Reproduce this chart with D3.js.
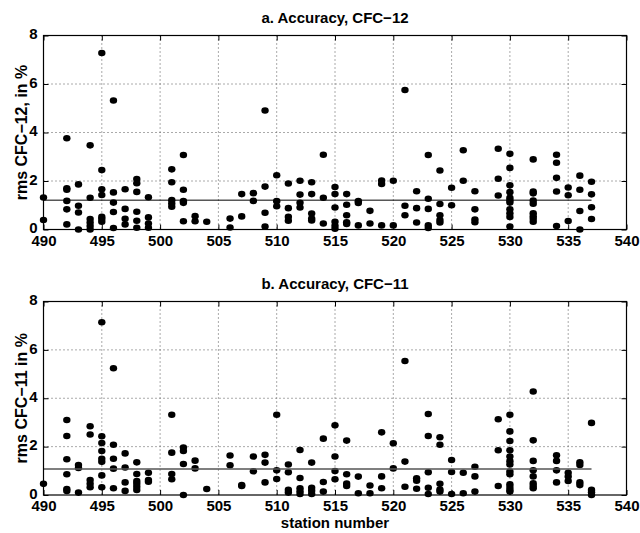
<!DOCTYPE html>
<html lang="en">
    <head>
        <meta charset="utf-8">
        <script src="https://d3js.org/d3.v7.min.js"></script>
        <title>Accuracy CFC-12 / CFC-11</title>
        <style>
            body { margin: 0; background: #fff; }
            text { font-family: "Liberation Sans", Arial, sans-serif; font-weight: bold; }
        </style>
    </head>

    <body>
        <div id="plot-div"></div>
        <script>
            const width = 640
            const height = 533

            // x axis ticks (station number) and y ticks (rms, %)
            const xTicks = [490, 495, 500, 505, 510, 515, 520, 525, 530, 535, 540]
            const yTicks = [0, 2, 4, 6, 8]

            // panel a: CFC-12, values per station
            const stations12 = [490, 492, 493, 494, 495, 496, 497, 498, 499, 501, 502, 503, 504, 506, 507, 508,
                509, 510, 511, 512, 513, 514, 515, 516, 517, 518, 519, 520, 521, 522, 523, 524, 525, 526, 527,
                529, 530, 532, 534, 535, 536, 537]
            const rms12 = [
                [1.32, 0.39],
                [3.76, 1.70, 1.64, 1.18, 0.83, 0.21],
                [1.86, 0.98, 0.70, 0.0],
                [3.47, 1.31, 0.43, 0.29, 0.14, 0.0],
                [7.28, 2.45, 1.66, 1.42, 0.52, 0.43, 0.32],
                [5.32, 1.53, 1.11, 0.72, 0.06],
                [1.66, 0.85, 0.44, 0.21],
                [2.08, 1.91, 1.55, 0.73, 0.36, 0.07],
                [1.33, 0.50, 0.25, 0.07],
                [2.48, 1.95, 1.21, 1.07, 0.94],
                [3.07, 1.64, 1.17, 1.10, 0.34],
                [0.55, 0.34],
                [0.32],
                [0.45, 0.08],
                [1.46, 0.54],
                [1.50, 1.18],
                [4.91, 1.77, 0.69, 0.12],
                [2.24, 1.17, 0.96],
                [1.90, 0.88, 0.52, 0.36],
                [2.01, 1.44, 1.10, 0.91],
                [1.95, 1.46, 0.66, 0.45, 0.37],
                [3.08, 1.31, 0.25],
                [1.75, 1.46, 0.91, 0.32, 0.15, 0.03],
                [1.46, 1.02, 0.59, 0.30, 0.23],
                [1.17, 1.09, 0.17],
                [0.77, 0.25],
                [2.02, 1.88, 0.17],
                [2.01, 0.17],
                [5.75, 0.98, 0.59],
                [1.58, 0.88, 0.29],
                [3.07, 1.27, 0.85, 0.17, 0.06],
                [2.43, 1.05, 0.59, 0.39, 0.29],
                [1.72, 1.00],
                [3.27, 2.01],
                [1.58, 0.83, 0.41, 0.30],
                [3.33, 2.09, 1.40],
                [3.12, 2.54, 1.82, 1.54, 1.31, 1.21, 1.11, 0.83, 0.67, 0.52, 0.12],
                [2.89, 1.57, 1.49, 1.19, 1.06, 0.67, 0.55, 0.44, 0.32],
                [3.08, 2.75, 2.13, 1.57, 0.14],
                [1.73, 1.41, 0.35],
                [2.22, 1.64, 0.76, 0.0],
                [1.97, 1.45, 0.92, 0.43]
            ]
            const mean12 = 1.21

            // panel b: CFC-11
            const stations11 = [490, 492, 493, 494, 495, 496, 497, 498, 499, 501, 502, 503, 504, 506, 507, 508,
                509, 510, 511, 512, 513, 514, 515, 516, 517, 518, 519, 520, 521, 522, 523, 524, 525, 526, 527,
                529, 530, 532, 534, 535, 536, 537]
            const rms11 = [
                [0.46],
                [3.10, 2.44, 1.48, 0.86, 0.25, 0.17],
                [1.24, 1.12, 0.10],
                [2.84, 2.50, 0.62, 0.46, 0.32],
                [7.14, 2.43, 2.15, 1.82, 1.50, 1.37, 0.81, 0.32],
                [5.24, 2.08, 1.50, 1.09, 0.28],
                [1.72, 1.14, 0.52, 0.17],
                [1.35, 0.87, 0.58, 0.47, 0.34, 0.21],
                [0.92, 0.62, 0.55],
                [3.32, 1.75, 0.87, 0.65],
                [1.96, 1.82, 1.28, 0.0],
                [1.42, 1.10],
                [0.25],
                [1.63, 1.23],
                [0.41, 0.37],
                [1.59, 0.98],
                [1.66, 1.34, 0.52],
                [3.32, 1.02, 0.66],
                [1.26, 0.94, 0.21, 0.10],
                [1.86, 0.70, 0.28, 0.15, 0.04],
                [1.34, 0.30, 0.18, 0.04],
                [2.33, 0.54, 0.14],
                [2.88, 1.59, 0.99, 0.65],
                [2.25, 0.86, 0.47, 0.37],
                [0.76, 0.07],
                [0.39, 0.07],
                [2.59, 0.77, 0.28],
                [2.14, 1.10],
                [5.54, 1.38, 0.34],
                [0.69, 0.59, 0.26],
                [3.35, 2.44, 0.94, 0.30, 0.04],
                [2.39, 2.08, 0.46, 0.23, 0.14],
                [1.45, 0.95, 0.04],
                [0.92, 0.07],
                [1.17, 0.77, 0.14],
                [3.13, 1.85, 0.37],
                [3.32, 2.63, 2.23, 1.85, 1.59, 1.40, 1.26, 0.97, 0.86, 0.44, 0.33, 0.22, 0.14],
                [4.28, 2.26, 1.41, 1.02, 0.77, 0.48, 0.37, 0.28],
                [1.64, 1.41, 1.02, 0.52],
                [0.92, 0.76, 0.58],
                [1.35, 1.24, 0.52, 0.41],
                [2.98, 0.21, 0.11, 0.0]
            ]
            const mean11 = 1.08

            const svg = d3.select("#plot-div")
                .append("svg")
                .attr("width", width)
                .attr("height", height)

            let drawPanel = (opts) => {
                let left = 43.5, right = 626.5
                let top = opts.top, bottom = opts.bottom

                let x = d3.scaleLinear().domain([490, 540]).range([left, right])
                let y = d3.scaleLinear().domain([0, 8]).range([bottom, top])

                let g = svg.append("g")

                // dotted grid
                g.append("g")
                .selectAll("line.gx")
                .data(xTicks.slice(1, -1))
                .join("line")
                .attr("x1", d => x(d)).attr("x2", d => x(d))
                .attr("y1", top).attr("y2", bottom)
                .attr("stroke", "#555")
                .attr("stroke-dasharray", "1,3")
                g.append("g")
                .selectAll("line.gy")
                .data(yTicks.slice(1, -1))
                .join("line")
                .attr("x1", left).attr("x2", right)
                .attr("y1", d => y(d)).attr("y2", d => y(d))
                .attr("stroke", "#555")
                .attr("stroke-dasharray", "1,3")

                // points
                let pts = []
                opts.stations.forEach((s, i) => opts.values[i].forEach(v => pts.push({s: s, v: v})))
                g.append("g")
                .selectAll("ellipse")
                .data(pts)
                .join("ellipse")
                .attr("cx", d => x(d.s))
                .attr("cy", d => y(d.v))
                .attr("rx", 3.7)
                .attr("ry", 3.3)
                .attr("fill", "#000")

                // mean line
                g.append("line")
                .attr("x1", x(490)).attr("x2", x(537))
                .attr("y1", y(opts.mean)).attr("y2", y(opts.mean))
                .attr("stroke", opts.meanColor)
                .attr("stroke-width", opts.meanWidth)

                // axes, ticks pointing inwards
                let styleAxis = (a) => {
                    a.select(".domain").remove()
                    a.selectAll("line").attr("stroke", "#000")
                    a.selectAll("text").attr("font-size", 15).attr("fill", "#000")
                }
                g.append("g")
                .attr("transform", `translate(0,${bottom})`)
                .call(d3.axisBottom(x).tickValues(xTicks).tickSizeInner(-5).tickSizeOuter(0).tickPadding(4))
                .call(styleAxis)
                .call(a => a.selectAll("text").attr("dy", "0.8em"))
                g.append("g")
                .attr("transform", `translate(0,${top})`)
                .call(d3.axisTop(x).tickValues(xTicks).tickSizeInner(-5).tickSizeOuter(0).tickFormat(""))
                .call(styleAxis)
                g.append("g")
                .attr("transform", `translate(${left},0)`)
                .call(d3.axisLeft(y).tickValues(yTicks).tickSizeInner(-5).tickSizeOuter(0).tickPadding(6))
                .call(styleAxis)
                .call(a => a.selectAll("text").attr("dy", "0.22em"))
                g.append("g")
                .attr("transform", `translate(${right},0)`)
                .call(d3.axisRight(y).tickValues(yTicks).tickSizeInner(-5).tickSizeOuter(0).tickFormat(""))
                .call(styleAxis)

                // box
                g.append("rect")
                .attr("x", left).attr("y", top)
                .attr("width", right - left).attr("height", bottom - top)
                .attr("fill", "none")
                .attr("stroke", "#000")
                .attr("stroke-width", 1.2)

                // title
                g.append("text")
                .attr("x", (left + right) / 2)
                .attr("y", top - 13)
                .attr("text-anchor", "middle")
                .attr("font-size", 15)
                .text(opts.title)

                // y label
                g.append("text")
                .attr("transform", `translate(27,${(top + bottom) / 2}) rotate(-90)`)
                .attr("text-anchor", "middle")
                .attr("font-size", 16)
                .text(opts.ylabel)

                if (opts.xlabel) {
                    g.append("text")
                    .attr("x", (left + right) / 2)
                    .attr("y", bottom + 33)
                    .attr("text-anchor", "middle")
                    .attr("font-size", 15)
                    .text(opts.xlabel)
                }
            }

            drawPanel({
                top: 35.5, bottom: 229.5,
                stations: stations12, values: rms12, mean: mean12,
                meanColor: "#000", meanWidth: 1,
                title: "a. Accuracy, CFC\u221212",
                ylabel: "rms CFC\u221212, in %"
            })
            drawPanel({
                top: 301.5, bottom: 495,
                stations: stations11, values: rms11, mean: mean11,
                meanColor: "#555", meanWidth: 1.5,
                title: "b. Accuracy, CFC\u221211",
                ylabel: "rms CFC\u221211 in %",
                xlabel: "station number"
            })
        </script>
    </body>
</html>
